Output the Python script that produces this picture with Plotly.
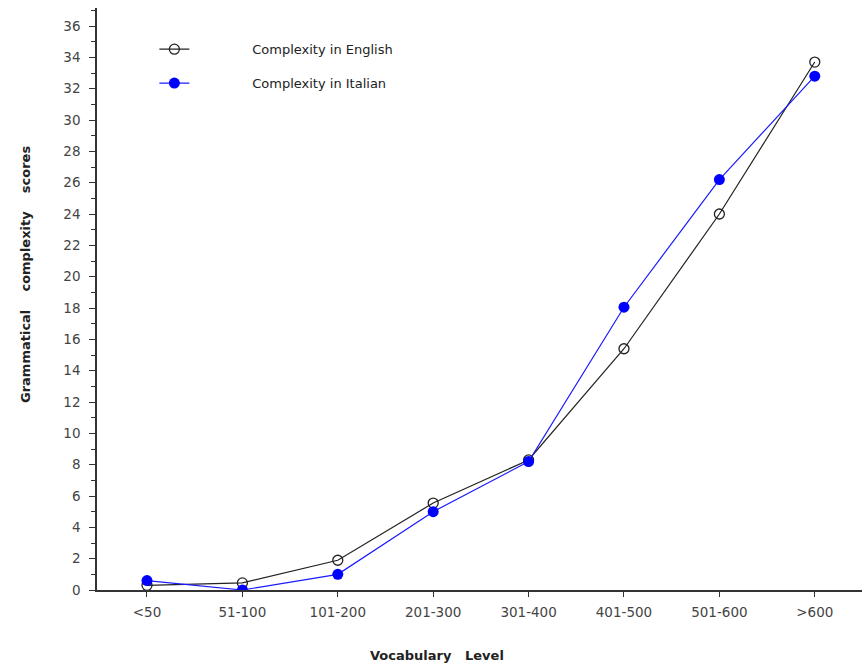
import plotly.graph_objects as go

categories = ["<50", "51-100", "101-200", "201-300", "301-400", "401-500", "501-600", ">600"]
english = [0.3, 0.45, 1.9, 5.55, 8.3, 15.4, 24.0, 33.7]
italian = [0.6, 0.0, 1.0, 5.0, 8.2, 18.05, 26.2, 32.8]
y_ticks = list(range(0, 37, 2))

xpos = list(range(len(categories)))
font_family = "DejaVu Sans"
text_color = "#444444"
pad = "\u00a0" * 14

fig = go.Figure()
fig.add_trace(go.Scatter(
    x=xpos, y=english, mode="lines+markers", name=pad + "Complexity in English",
    line=dict(color="#222222", width=1.2),
    marker=dict(symbol="circle-open", size=10, color="#222222", line=dict(width=1.3)),
    legendgroup="en",
))
fig.add_trace(go.Scatter(
    x=xpos, y=italian, mode="lines+markers", name=pad + "Complexity in Italian",
    line=dict(color="#1a1aff", width=1.2),
    marker=dict(symbol="circle", size=11, color="#0000ff"),
    legendgroup="it",
))

fig.update_layout(
    width=865, height=666,
    margin=dict(l=97, r=3, t=8, b=76),
    paper_bgcolor="white", plot_bgcolor="white",
    font=dict(family=font_family, size=12, color=text_color),
    showlegend=True,
    legend=dict(
        x=0.075, y=0.955, xanchor="left", yanchor="top",
        bgcolor="rgba(0,0,0,0)", font=dict(size=13, color="#222222"),
        tracegroupgap=14,
    ),
    xaxis=dict(
        range=[-0.524, 7.495], tickmode="array", tickvals=xpos, ticktext=categories,
        showgrid=False, zeroline=False, showline=True, linecolor="#333333", linewidth=1.5,
        ticks="outside", ticklen=5, tickcolor="#333333",
        tickfont=dict(size=13.5, color=text_color), ticklabelstandoff=4,
    ),
    yaxis=dict(
        range=[0, 37.15], tickmode="array", tickvals=y_ticks,
        showgrid=False, zeroline=False, showline=True, linecolor="#333333", linewidth=1.5,
        ticks="outside", ticklen=6, tickcolor="#333333",
        tickfont=dict(size=13.5, color=text_color), ticklabelstandoff=6,
        minor=dict(dtick=1, ticks="outside", ticklen=4, tickcolor="#333333", showgrid=False),
    ),
    annotations=[
        dict(text="<b>Vocabulary   Level</b>", xref="paper", yref="paper",
             x=(437 - 97) / 765, y=-(655 - 590) / 582, xanchor="center", yanchor="middle",
             showarrow=False, font=dict(size=13, color="#222222")),
        dict(text="<b>Grammatical    complexity    scores</b>", xref="paper", yref="paper",
             x=-(97 - 25) / 765, y=(590 - 275) / 582, xanchor="center", yanchor="middle",
             textangle=-90, showarrow=False, font=dict(size=13, color="#222222")),
    ],
)

fig.write_html("out.html")
